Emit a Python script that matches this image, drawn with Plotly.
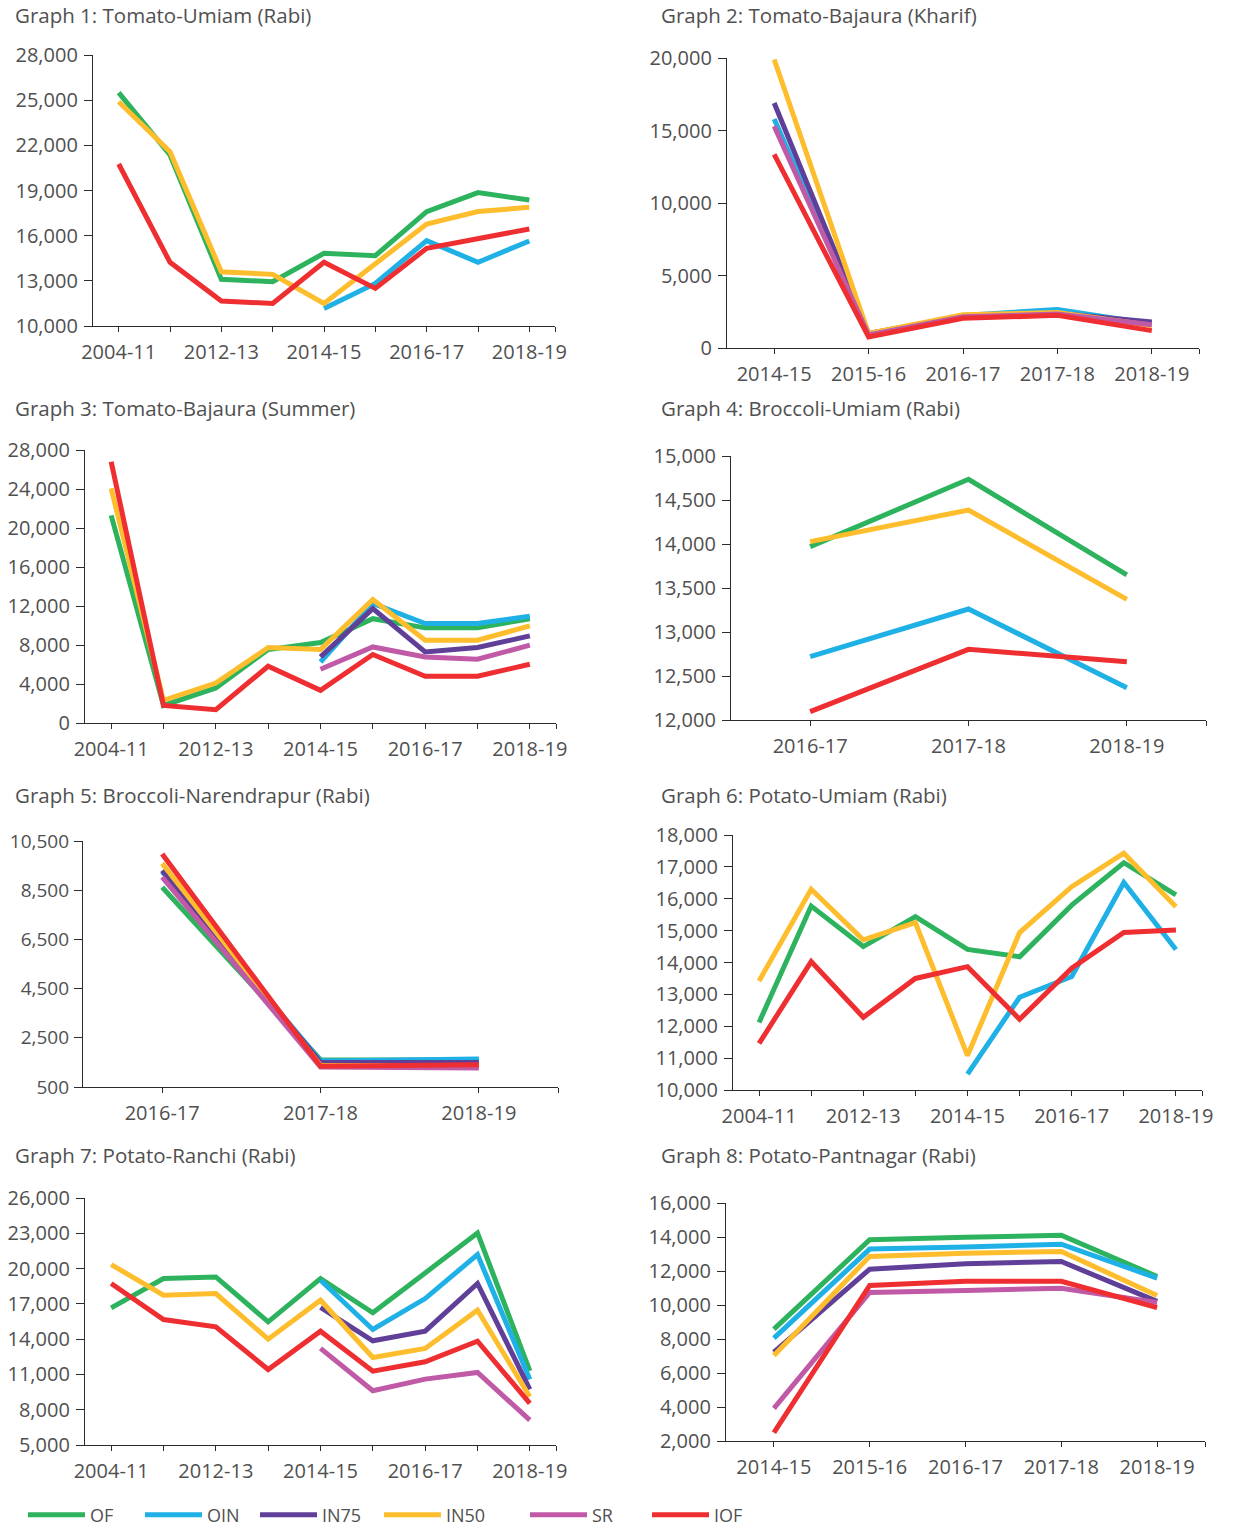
import plotly.graph_objects as go
from plotly.subplots import make_subplots

SERIES = ["OF", "OIN", "IN75", "IN50", "SR", "IOF"]
COLORS = {
    "OF": "#2db35d",
    "OIN": "#1fb0e6",
    "IN75": "#5f3f98",
    "IN50": "#fdbd2c",
    "SR": "#c05aa6",
    "IOF": "#ee2e31",
}

years_9 = ["2004-11", "2011-12", "2012-13", "2013-14", "2014-15",
           "2015-16", "2016-17", "2017-18", "2018-19"]
labels_9 = ["2004-11", "", "2012-13", "", "2014-15", "", "2016-17", "", "2018-19"]
years_5 = ["2014-15", "2015-16", "2016-17", "2017-18", "2018-19"]
years_3 = ["2016-17", "2017-18", "2018-19"]

# Graph 1: Tomato-Umiam (Rabi)
g1_of = [25500, 21360, 13100, 12940, 14830, 14670, 17600, 18860, 18370]
g1_oin = [None, None, None, None, 11170, 12830, 15670, 14230, 15650]
g1_in50 = [24900, 21580, 13600, 13430, 11500, 14160, 16770, 17600, 17880]
g1_iof = [20760, 14230, 11660, 11500, 14230, 12500, 15160, 15820, 16440]
g1_yticks = [10000, 13000, 16000, 19000, 22000, 25000, 28000]

# Graph 2: Tomato-Bajaura (Kharif)
g2_oin = [15800, 950, 2250, 2650, 1650]
g2_in75 = [16900, 1000, 2200, 2400, 1800]
g2_in50 = [19900, 1000, 2300, 2450, 1550]
g2_sr = [15300, 900, 2150, 2350, 1600]
g2_iof = [13350, 760, 2050, 2250, 1200]
g2_yticks = [0, 5000, 10000, 15000, 20000]

# Graph 3: Tomato-Bajaura (Summer)
g3_of = [21300, 1800, 3600, 7530, 8250, 10700, 9760, 9760, 10700]
g3_oin = [None, None, None, None, 6260, 12260, 10200, 10200, 10950]
g3_in75 = [None, None, None, None, 6780, 11740, 7290, 7740, 8940]
g3_in50 = [24070, 2330, 4100, 7740, 7530, 12670, 8490, 8490, 9960]
g3_sr = [None, None, None, None, 5510, 7800, 6780, 6540, 7980]
g3_iof = [26800, 1800, 1370, 5820, 3350, 7020, 4790, 4790, 6030]
g3_yticks = [0, 4000, 8000, 12000, 16000, 20000, 24000, 28000]

# Graph 4: Broccoli-Umiam (Rabi)
g4_of = [13970, 14735, 13648]
g4_oin = [12720, 13261, 12367]
g4_in50 = [14027, 14386, 13371]
g4_iof = [12095, 12803, 12663]
g4_yticks = [12000, 12500, 13000, 13500, 14000, 14500, 15000]

# Graph 5: Broccoli-Narendrapur (Rabi)
g5_of = [8620, 1610, 1600]
g5_oin = [9250, 1560, 1640]
g5_in75 = [9300, 1500, 1500]
g5_in50 = [9590, 1380, 1350]
g5_sr = [9030, 1310, 1270]
g5_iof = [9970, 1340, 1400]
g5_yticks = [500, 2500, 4500, 6500, 8500, 10500]

# Graph 6: Potato-Umiam (Rabi)
g6_of = [12120, 15770, 14500, 15440, 14410, 14180, 15800, 17130, 16120]
g6_oin = [None, None, None, None, 10500, 12910, 13560, 16510, 14410]
g6_in50 = [13420, 16300, 14710, 15250, 11080, 14940, 16380, 17430, 15750]
g6_iof = [11460, 14030, 12280, 13500, 13870, 12220, 13820, 14940, 15020]
g6_yticks = [10000, 11000, 12000, 13000, 14000, 15000, 16000, 17000, 18000]

# Graph 7: Potato-Ranchi (Rabi)
g7_of = [16660, 19150, 19290, 15470, 19150, 16240, 19630, 23030, 11310]
g7_oin = [None, None, None, None, 19010, 14820, 17450, 21190, 10580]
g7_in75 = [None, None, None, None, 16690, 13860, 14680, 18730, 9730]
g7_in50 = [20340, 17740, 17880, 14000, 17310, 12440, 13210, 16460, 9100]
g7_sr = [None, None, None, None, 13210, 9610, 10600, 11170, 7120]
g7_iof = [18730, 15670, 15050, 11420, 14680, 11280, 12080, 13830, 8540]
g7_yticks = [5000, 8000, 11000, 14000, 17000, 20000, 23000, 26000]

# Graph 8: Potato-Pantnagar (Rabi)
g8_of = [8580, 13840, 13980, 14100, 11680]
g8_oin = [8050, 13290, 13410, 13580, 11580]
g8_in75 = [7220, 12110, 12430, 12560, 10210]
g8_in50 = [7030, 12860, 13050, 13150, 10560]
g8_sr = [3920, 10740, 10860, 10990, 10150]
g8_iof = [2490, 11150, 11390, 11390, 9850]
g8_yticks = [2000, 4000, 6000, 8000, 10000, 12000, 14000, 16000]

charts = [
    ("Graph 1: Tomato-Umiam (Rabi)", years_9, labels_9,
     {"OF": g1_of, "OIN": g1_oin, "IN50": g1_in50, "IOF": g1_iof}, g1_yticks),
    ("Graph 2: Tomato-Bajaura (Kharif)", years_5, years_5,
     {"OIN": g2_oin, "IN75": g2_in75, "IN50": g2_in50, "SR": g2_sr, "IOF": g2_iof}, g2_yticks),
    ("Graph 3: Tomato-Bajaura (Summer)", years_9, labels_9,
     {"OF": g3_of, "OIN": g3_oin, "IN75": g3_in75, "IN50": g3_in50, "SR": g3_sr, "IOF": g3_iof}, g3_yticks),
    ("Graph 4: Broccoli-Umiam (Rabi)", years_3, years_3,
     {"OF": g4_of, "OIN": g4_oin, "IN50": g4_in50, "IOF": g4_iof}, g4_yticks),
    ("Graph 5: Broccoli-Narendrapur (Rabi)", years_3, years_3,
     {"OF": g5_of, "OIN": g5_oin, "IN75": g5_in75, "IN50": g5_in50, "SR": g5_sr, "IOF": g5_iof}, g5_yticks),
    ("Graph 6: Potato-Umiam (Rabi)", years_9, labels_9,
     {"OF": g6_of, "OIN": g6_oin, "IN50": g6_in50, "IOF": g6_iof}, g6_yticks),
    ("Graph 7: Potato-Ranchi (Rabi)", years_9, labels_9,
     {"OF": g7_of, "OIN": g7_oin, "IN75": g7_in75, "IN50": g7_in50, "SR": g7_sr, "IOF": g7_iof}, g7_yticks),
    ("Graph 8: Potato-Pantnagar (Rabi)", years_5, years_5,
     {"OF": g8_of, "OIN": g8_oin, "IN75": g8_in75, "IN50": g8_in50, "SR": g8_sr, "IOF": g8_iof}, g8_yticks),
]

W, H = 1237, 1528


def px_x(p):
    return p / W


def px_y(p):
    return 1 - p / H


# plot area boxes in pixels: left, right, top, bottom
boxes = [
    (93, 555, 55, 326), (727, 1199, 58, 348),
    (85, 556, 450, 723), (731, 1206, 456, 720),
    (83, 558, 841, 1087), (733, 1202, 835, 1090),
    (85, 556, 1198, 1445), (726, 1205, 1203, 1441),
]
title_y = [15, 15, 408, 408, 795, 795, 1155, 1155]
legend_x = [23, 140, 255, 379, 525, 647]

TEXT = "#505050"
AXIS = "#2b2b2b"
FONT = "Open Sans"

fig = make_subplots(rows=4, cols=2)
shown = set()
for i, (title, cats, labels, data, yticks) in enumerate(charts):
    r, c = i // 2 + 1, i % 2 + 1
    for s in SERIES:
        if s not in data:
            continue
        k = SERIES.index(s)
        fig.add_trace(go.Scatter(
            x=cats, y=data[s], mode="lines", name=s,
            line=dict(color=COLORS[s], width=5),
            legendgroup=s, legend="legend" if k == 0 else f"legend{k + 1}",
            showlegend=s not in shown,
        ), row=r, col=c)
        shown.add(s)

    left, right, top, bottom = boxes[i]
    ysize = 19 if i == 4 else 20
    fig.update_xaxes(
        type="category", range=[-0.5, len(cats) - 0.5],
        tickmode="array", tickvals=cats + [len(cats) - 0.5], ticktext=labels + [""],
        domain=[px_x(left), px_x(right)], automargin=False,
        showline=True, linecolor=AXIS, linewidth=1.3,
        ticks="outside", ticklen=5, tickcolor=AXIS, tickwidth=1.3,
        showgrid=False, zeroline=False, ticklabelstandoff=3,
        tickfont=dict(size=20, color=TEXT, family=FONT),
        row=r, col=c)
    fig.update_yaxes(
        range=[yticks[0], yticks[-1]], tickmode="array", tickvals=yticks,
        tickformat=",", domain=[px_y(bottom), px_y(top)], automargin=False,
        showline=True, linecolor=AXIS, linewidth=1.3,
        ticks="outside", ticklen=8, tickcolor=AXIS, tickwidth=1.3,
        showgrid=False, zeroline=False, ticklabelstandoff=1 if i == 4 else 2,
        tickfont=dict(size=ysize, color=TEXT, family=FONT),
        row=r, col=c)

    tx = 13 if c == 1 else 659
    fig.add_annotation(
        text=title, xref="paper", yref="paper",
        x=px_x(tx), y=px_y(title_y[i]), xanchor="left", yanchor="middle",
        showarrow=False, font=dict(size=20.5, color=TEXT, family=FONT))

legends = {}
for k, s in enumerate(SERIES):
    key = "legend" if k == 0 else f"legend{k + 1}"
    legends[key] = dict(
        orientation="h", x=px_x(legend_x[k]), y=px_y(1515),
        xanchor="left", yanchor="middle", itemwidth=57,
        font=dict(size=18, color=TEXT, family=FONT),
        bgcolor="rgba(0,0,0,0)", borderwidth=0,
    )

fig.update_layout(
    template="none",
    width=W, height=H,
    margin=dict(l=0, r=0, t=0, b=0, autoexpand=False),
    paper_bgcolor="white", plot_bgcolor="white",
    font=dict(family=FONT, color=TEXT),
    **legends,
)

# drop the page's default body margin so the figure fills the window exactly
fig.write_html("out.html", config={"displayModeBar": False},
               post_script="document.body.style.margin = '0';")
